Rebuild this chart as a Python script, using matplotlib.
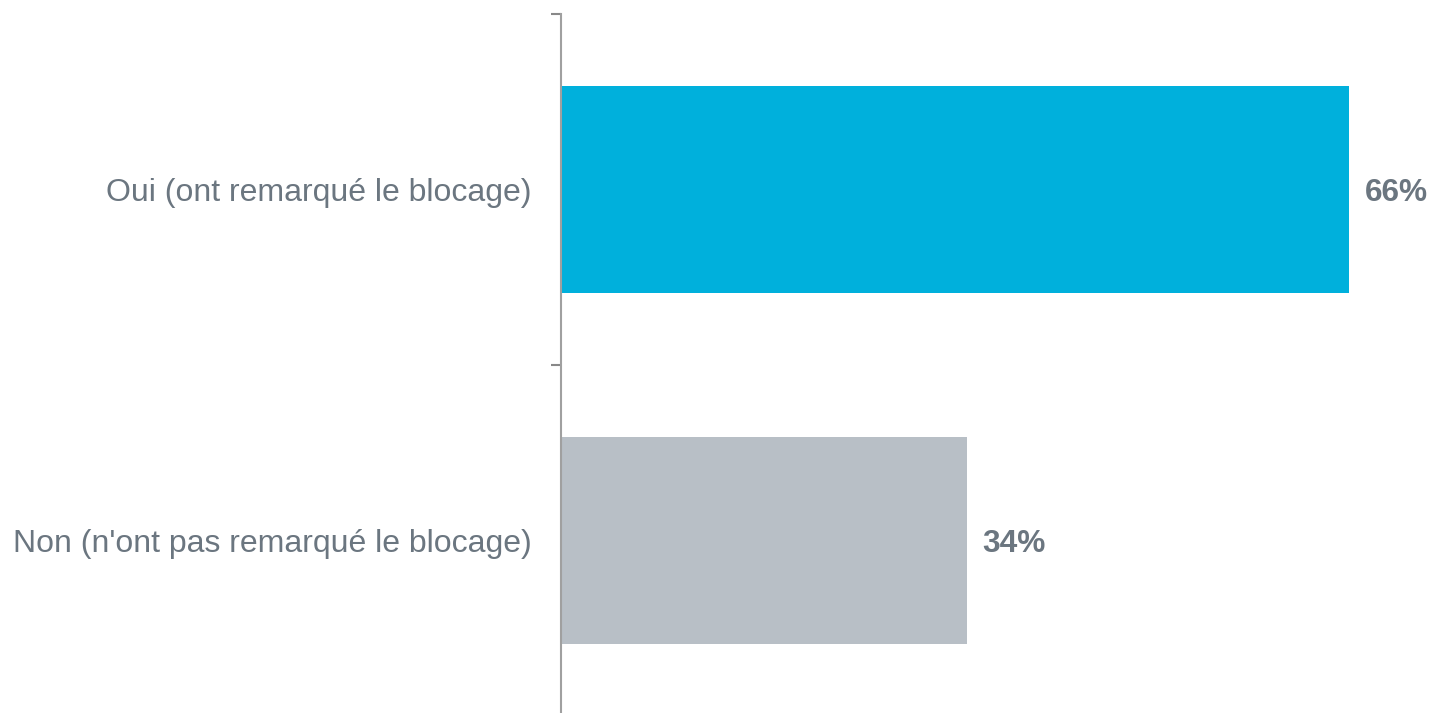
import matplotlib.pyplot as plt

plt.rcParams['font.family'] = ['Liberation Sans', 'DejaVu Sans']

# données
categories = ["Oui (ont remarqué le blocage)", "Non (n'ont pas remarqué le blocage)"]
values = [66, 34]
colors = ['#00B0DC', '#B8BFC6']
text_color = '#6B7680'

fig = plt.figure(figsize=(14.35, 7.13), dpi=100)
ax = fig.add_axes([561/1435, -3/713, (1435-561)/1435, 702/713])

pos = [1, 0]
ax.barh(pos, values, height=0.59, color=colors)

for p, v in zip(pos, values):
    ax.text(v + 1.3, p - 0.009, f"{v}%", va='center', ha='left', fontsize=22.8,
            fontweight='bold', color=text_color)

ax.set_xlim(0, 73.2)
ax.set_ylim(-0.5, 1.5)

# graduations aux limites des catégories, étiquettes au centre
ax.set_yticks([-0.5, 0.5, 1.5])
ax.set_yticklabels([])
ax.set_yticks(pos, minor=True)
ax.set_yticklabels(categories, minor=True)
ax.tick_params(axis='y', which='major', length=7, width=1.5, color='#888888')
ax.tick_params(axis='y', which='minor', length=0, pad=21, labelsize=23,
               labelcolor=text_color)
ax.set_xticks([])

for s in ['top', 'right', 'bottom']:
    ax.spines[s].set_visible(False)
ax.spines['left'].set_color('#A0A0A0')
ax.spines['left'].set_linewidth(1.5)

fig.savefig('out.png', dpi=100)
